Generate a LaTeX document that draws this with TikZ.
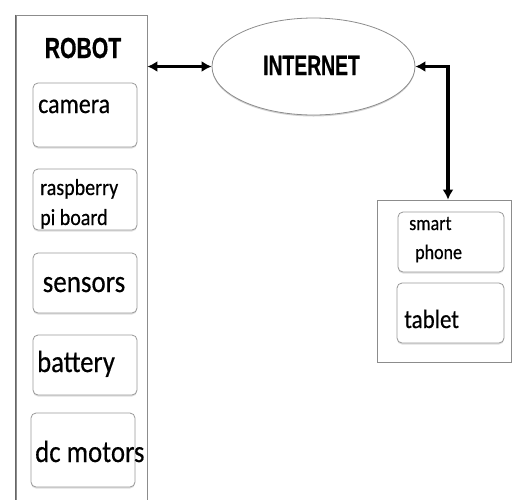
\documentclass[tikz,border=0pt]{standalone}
\usepackage{fontspec}
\setmainfont{Carlito}[FakeBold=0.5]
\newfontfamily\headfont{Liberation Sans}[FakeBold=0.6]
\usetikzlibrary{arrows.meta,shapes.geometric,shadows}

% body text: Calibri-like, slightly tall
\newcommand\boxtext[2]{\scalebox{1}[1.15]{\fontsize{#1}{#1}\selectfont #2}}
% headings: narrow bold sans
\newcommand\headtext[3]{\scalebox{#2}[1]{\fontsize{#1}{#1}\selectfont\headfont\bfseries #3}}

\tikzset{
  outerbox/.style={draw=black!45, line width=0.8pt, inner sep=0pt},
  part/.style={draw=black!40, line width=0.8pt, rounded corners=5pt, inner sep=0pt,
    fill=white, drop shadow={shadow xshift=0pt, shadow yshift=-1.5pt, opacity=0.25}},
  cloud/.style={ellipse, draw=black!45, line width=0.8pt, inner sep=0pt, fill=white,
    minimum width=203pt, minimum height=97pt,
    drop shadow={shadow xshift=0pt, shadow yshift=-1.5pt, opacity=0.35}},
  txt/.style={inner sep=0pt, anchor=base west, text=black},
  link/.style={line width=3.2pt, black, {Latex[length=10pt,width=11pt]}-{Latex[length=10pt,width=11pt]}},
}

\begin{document}
\begin{tikzpicture}[x=1pt, y=-1pt]
\useasboundingbox (0,0) rectangle (513,499);

% robot enclosure (runs past the lower edge)
\node[outerbox, minimum width=131pt, minimum height=505pt] (robot) at (81.5,267.5) {};
\draw[black!60, line width=1.6pt] (robot.north west) -- (robot.south west);
\node[inner sep=0pt, anchor=base] (robottitle) at (83,58) {\headtext{29}{0.73}{ROBOT}};

% robot parts
\node[part, minimum width=104pt, minimum height=64pt] (camera) at (85,115) {};
\node[txt] (cameralbl) at (38,113) {\boxtext{24}{camera}};

\node[part, minimum width=104pt, minimum height=61pt] (rpi) at (85,199.5) {};
\node[txt] (rpilbl1) at (40,195) {\boxtext{20}{raspberry}};
\node[txt] (rpilbl2) at (40,225) {\boxtext{20}{pi board}};

\node[part, minimum width=104pt, minimum height=60pt] (sensors) at (85,283) {};
\node[inner sep=0pt, anchor=base] (sensorslbl) at (84,292) {\boxtext{27}{sensors}};

\node[part, minimum width=104pt, minimum height=60pt] (battery) at (85,365) {};
\node[txt] (batterylbl) at (37,372) {\boxtext{26.6}{battery}};

\node[part, minimum width=104pt, minimum height=74pt] (motors) at (83,450) {};
\node[txt] (motorslbl) at (35,462) {\boxtext{26.8}{dc motors}};

% network
\node[cloud] (internet) at (313.5,66.5) {};
\node[inner sep=0pt, anchor=base] (internetlbl) at (311.5,75) {\headtext{28}{0.69}{INTERNET}};

% client devices
\node[outerbox, minimum width=134pt, minimum height=162pt] (devices) at (444,281) {};
\node[part, minimum width=106pt, minimum height=60pt] (phone) at (451,242) {};
\node[txt] (phonelbl1) at (409,230) {\boxtext{18}{smart}};
\node[txt] (phonelbl2) at (415,259) {\boxtext{18}{phone}};
\node[part, minimum width=107pt, minimum height=60pt] (tablet) at (450.5,313) {};
\node[txt] (tabletlbl) at (404,328) {\boxtext{23}{tablet}};

% connections
\draw[link] (robot.east |- internet.west) -- (internet.west);
\draw[link] (internet.east) -| ([xshift=4pt]devices.north);
\end{tikzpicture}
\end{document}
